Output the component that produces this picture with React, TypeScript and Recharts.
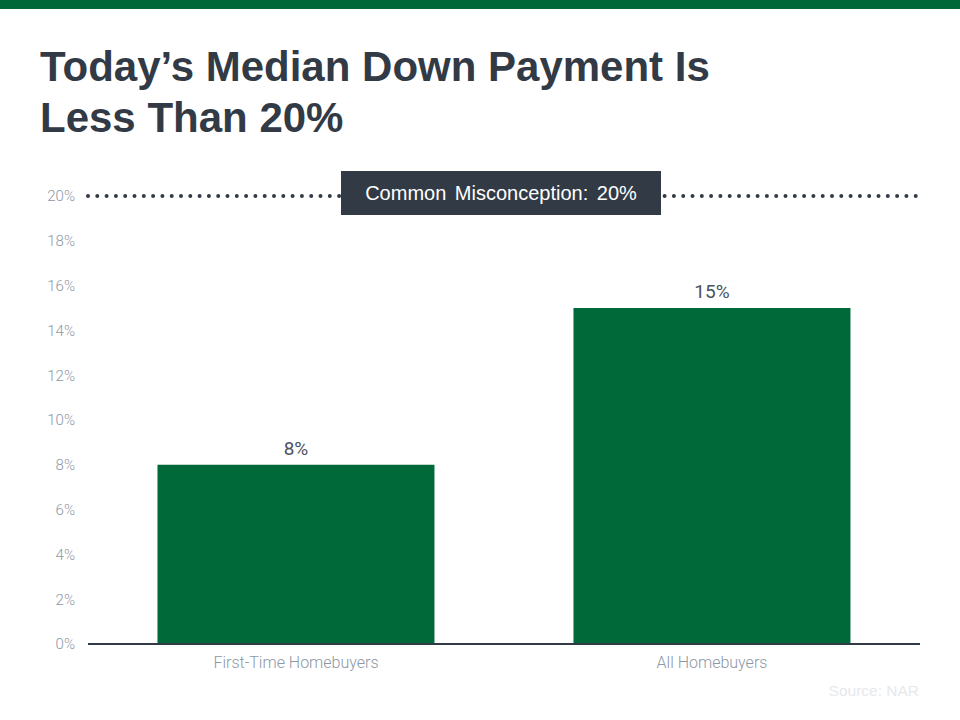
import React from "react";
import {
    BarChart, Bar, XAxis, YAxis, ReferenceLine, LabelList,
} from "recharts";

// ─── Data ─────────────────────────────────────────────────────────────────────

const categories = ["First-Time Homebuyers", "All Homebuyers"];
const downPayment = [8, 15];
const yTicks = [0, 2, 4, 6, 8, 10, 12, 14, 16, 18, 20];
const misconception = 20;

const data = categories.map((name, i) => ({ name, value: downPayment[i] }));

const GREEN = "#00693a";
const DARK = "#323a45";
const GREY = "#8d97a5";

// ─── Reference label ──────────────────────────────────────────────────────────

function MisconceptionLabel(props: any) {
    const { viewBox } = props;
    const cx = viewBox.x + viewBox.width / 2 - 3;
    const cy = viewBox.y - 3;
    const w = 320;
    const h = 44;
    return (
        <g>
            <rect x={cx - w / 2} y={cy - h / 2} width={w} height={h} fill={DARK} />
            <text
                x={cx}
                y={cy}
                dy="0.35em"
                textAnchor="middle"
                fill="#ffffff"
                fontSize={20}
                wordSpacing={3}
                fontFamily="Liberation Sans, Arial, sans-serif"
            >
                Common Misconception: 20%
            </text>
        </g>
    );
}

export default function App() {
    return (
        <div
            style={{
                position: "absolute",
                top: 0,
                left: 0,
                width: 960,
                height: 720,
                background: "#ffffff",
                overflow: "hidden",
            }}
        >
            <div style={{ position: "absolute", top: 0, left: 0, width: 960, height: 9, background: "#006838" }} />
            <div
                style={{
                    position: "absolute",
                    top: 41,
                    left: 40,
                    fontFamily: "'Liberation Sans Narrow', 'Arial Narrow', 'Liberation Sans', sans-serif",
                    fontWeight: 700,
                    fontSize: 42,
                    lineHeight: "51px",
                    color: DARK,
                }}
            >
                Today’s Median Down Payment Is
                <br />
                Less Than 20%
            </div>
            <div style={{ position: "absolute", top: 0, left: 0 }}>
                <BarChart
                    width={960}
                    height={720}
                    data={data}
                    margin={{ top: 196, right: 40, bottom: 46, left: 28 }}
                    barCategoryGap="16.7%"
                >
                    <XAxis
                        dataKey="name"
                        height={30}
                        axisLine={{ stroke: DARK, strokeWidth: 2 }}
                        tickLine={false}
                        tickMargin={7}
                        tick={{ fontSize: 16, fill: GREY, fontFamily: "Roboto, sans-serif", fontWeight: 300 }}
                    />
                    <YAxis
                        width={60}
                        domain={[0, 20]}
                        ticks={yTicks}
                        interval={0}
                        axisLine={false}
                        tickLine={false}
                        tickMargin={7}
                        tickFormatter={(v: number) => `${v}%`}
                        tick={{ fontSize: 15, fill: GREY, fontFamily: "Roboto, sans-serif", fontWeight: 300 }}
                    />
                    <Bar dataKey="value" fill={GREEN} isAnimationActive={false}>
                        <LabelList
                            dataKey="value"
                            position="top"
                            offset={10}
                            formatter={(v: any) => `${v}%`}
                            style={{ fontSize: 19, fill: "#4a5360", fontFamily: "Roboto, sans-serif" }}
                        />
                    </Bar>
                    <ReferenceLine
                        y={misconception}
                        stroke={DARK}
                        strokeWidth={4}
                        strokeLinecap="round"
                        strokeDasharray="0 9.3"
                        label={<MisconceptionLabel />}
                    />
                </BarChart>
            </div>
            <div
                style={{
                    position: "absolute",
                    top: 682,
                    right: 41,
                    fontFamily: "Liberation Sans, Arial, sans-serif",
                    fontSize: 15.5,
                    color: "#e6e9ec",
                }}
            >
                Source: NAR
            </div>
        </div>
    );
}
